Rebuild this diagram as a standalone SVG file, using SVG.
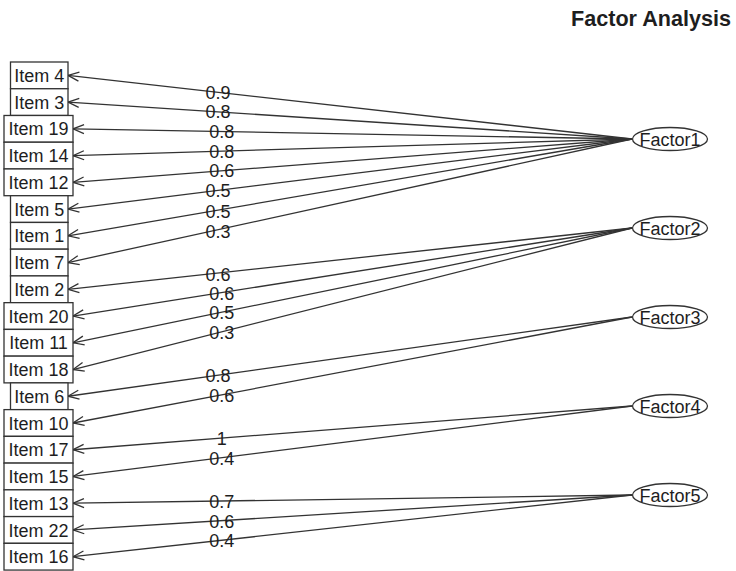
<svg xmlns="http://www.w3.org/2000/svg" width="736" height="571" viewBox="0 0 736 571">
  <style>
    text { font-family: "Liberation Sans", Arial, sans-serif; fill: #1e1e1e; }
    .lbl { font-size: 18px; text-anchor: middle; }
    .title { font-size: 21.6px; font-weight: bold; text-anchor: end; }
    .box { fill: #ffffff; stroke: #333333; stroke-width: 1.3; }
    .fac { fill: #ffffff; stroke: #333333; stroke-width: 1.3; }
    .edge { fill: none; stroke: #333333; stroke-width: 1.3; marker-end: url(#arr); }
  </style>
  <defs>
    <marker id="arr" markerUnits="userSpaceOnUse" markerWidth="14" markerHeight="12" refX="0" refY="0" orient="auto" viewBox="-12 -6 14 12" overflow="visible">
      <path d="M-11,-4.5 L0,0 L-11,4.5" fill="none" stroke="#333333" stroke-width="1.3"/>
    </marker>
  </defs>

  <rect width="736" height="571" fill="#ffffff"/>

  <text class="title" x="731" y="26">Factor Analysis</text>

  <!-- loading paths: factor to item -->
  <g id="connectors">
    <line class="edge" x1="632" y1="139" x2="68" y2="75.37"/>
    <line class="edge" x1="632" y1="139" x2="68" y2="102.11"/>
    <line class="edge" x1="632" y1="139" x2="73" y2="128.85"/>
    <line class="edge" x1="632" y1="139" x2="73" y2="155.59"/>
    <line class="edge" x1="632" y1="139" x2="73" y2="182.33"/>
    <line class="edge" x1="632" y1="139" x2="68" y2="209.07"/>
    <line class="edge" x1="632" y1="139" x2="68" y2="235.81"/>
    <line class="edge" x1="632" y1="139" x2="68" y2="262.55"/>
    <line class="edge" x1="632" y1="228" x2="68" y2="289.29"/>
    <line class="edge" x1="632" y1="228" x2="73" y2="316.03"/>
    <line class="edge" x1="632" y1="228" x2="73" y2="342.77"/>
    <line class="edge" x1="632" y1="228" x2="73" y2="369.51"/>
    <line class="edge" x1="632" y1="317" x2="68" y2="396.25"/>
    <line class="edge" x1="632" y1="317" x2="73" y2="422.99"/>
    <line class="edge" x1="632" y1="406" x2="73" y2="449.73"/>
    <line class="edge" x1="632" y1="406" x2="73" y2="476.47"/>
    <line class="edge" x1="632" y1="495" x2="73" y2="503.21"/>
    <line class="edge" x1="632" y1="495" x2="73" y2="529.95"/>
    <line class="edge" x1="632" y1="495" x2="73" y2="556.69"/>

    <!-- loading values -->
    <text class="lbl" x="218" y="98.8">0.9</text>
    <text class="lbl" x="218" y="118.4">0.8</text>
    <text class="lbl" x="221.7" y="138.1">0.8</text>
    <text class="lbl" x="221.7" y="157.7">0.8</text>
    <text class="lbl" x="221.7" y="177.3">0.6</text>
    <text class="lbl" x="218" y="197.4">0.5</text>
    <text class="lbl" x="218" y="217.6">0.5</text>
    <text class="lbl" x="218" y="237.7">0.3</text>
    <text class="lbl" x="218" y="280.5">0.6</text>
    <text class="lbl" x="221.7" y="299.6">0.6</text>
    <text class="lbl" x="221.7" y="319.2">0.5</text>
    <text class="lbl" x="221.7" y="339.4">0.3</text>
    <text class="lbl" x="218" y="382.2">0.8</text>
    <text class="lbl" x="221.7" y="402.3">0.6</text>
    <text class="lbl" x="221.7" y="445.1">1</text>
    <text class="lbl" x="221.7" y="465.2">0.4</text>
    <text class="lbl" x="221.7" y="508.0">0.7</text>
    <text class="lbl" x="221.7" y="527.6">0.6</text>
    <text class="lbl" x="221.7" y="547.3">0.4</text>
  </g>

  <!-- observed items -->
  <g id="item4"><rect class="box" x="10.5" y="62" width="57.5" height="26.74"/><text class="lbl" x="39.3" y="81.9">Item 4</text></g>
  <g id="item3"><rect class="box" x="10.5" y="88.74" width="57.5" height="26.74"/><text class="lbl" x="39.3" y="108.6">Item 3</text></g>
  <g id="item19"><rect class="box" x="4" y="115.48" width="69" height="26.74"/><text class="lbl" x="38.5" y="135.4">Item 19</text></g>
  <g id="item14"><rect class="box" x="4" y="142.22" width="69" height="26.74"/><text class="lbl" x="38.5" y="162.1">Item 14</text></g>
  <g id="item12"><rect class="box" x="4" y="168.96" width="69" height="26.74"/><text class="lbl" x="38.5" y="188.8">Item 12</text></g>
  <g id="item5"><rect class="box" x="10.5" y="195.7" width="57.5" height="26.74"/><text class="lbl" x="39.3" y="215.6">Item 5</text></g>
  <g id="item1"><rect class="box" x="10.5" y="222.44" width="57.5" height="26.74"/><text class="lbl" x="39.3" y="242.3">Item 1</text></g>
  <g id="item7"><rect class="box" x="10.5" y="249.18" width="57.5" height="26.74"/><text class="lbl" x="39.3" y="269.1">Item 7</text></g>
  <g id="item2"><rect class="box" x="10.5" y="275.92" width="57.5" height="26.74"/><text class="lbl" x="39.3" y="295.8">Item 2</text></g>
  <g id="item20"><rect class="box" x="4" y="302.66" width="69" height="26.74"/><text class="lbl" x="38.5" y="322.5">Item 20</text></g>
  <g id="item11"><rect class="box" x="4" y="329.4" width="69" height="26.74"/><text class="lbl" x="38.5" y="349.3">Item 11</text></g>
  <g id="item18"><rect class="box" x="4" y="356.14" width="69" height="26.74"/><text class="lbl" x="38.5" y="376.0">Item 18</text></g>
  <g id="item6"><rect class="box" x="10.5" y="382.88" width="57.5" height="26.74"/><text class="lbl" x="39.3" y="402.8">Item 6</text></g>
  <g id="item10"><rect class="box" x="4" y="409.62" width="69" height="26.74"/><text class="lbl" x="38.5" y="429.5">Item 10</text></g>
  <g id="item17"><rect class="box" x="4" y="436.36" width="69" height="26.74"/><text class="lbl" x="38.5" y="456.2">Item 17</text></g>
  <g id="item15"><rect class="box" x="4" y="463.1" width="69" height="26.74"/><text class="lbl" x="38.5" y="483.0">Item 15</text></g>
  <g id="item13"><rect class="box" x="4" y="489.84" width="69" height="26.74"/><text class="lbl" x="38.5" y="509.7">Item 13</text></g>
  <g id="item22"><rect class="box" x="4" y="516.58" width="69" height="26.74"/><text class="lbl" x="38.5" y="536.5">Item 22</text></g>
  <g id="item16"><rect class="box" x="4" y="543.32" width="69" height="26.74"/><text class="lbl" x="38.5" y="563.2">Item 16</text></g>

  <!-- latent factors -->
  <g id="factor1"><ellipse class="fac" cx="670" cy="139" rx="37.5" ry="11.5"/><text class="lbl" x="670" y="145.5">Factor1</text></g>
  <g id="factor2"><ellipse class="fac" cx="670" cy="228" rx="37.5" ry="11.5"/><text class="lbl" x="670" y="234.5">Factor2</text></g>
  <g id="factor3"><ellipse class="fac" cx="670" cy="317" rx="37.5" ry="11.5"/><text class="lbl" x="670" y="323.5">Factor3</text></g>
  <g id="factor4"><ellipse class="fac" cx="670" cy="406" rx="37.5" ry="11.5"/><text class="lbl" x="670" y="412.5">Factor4</text></g>
  <g id="factor5"><ellipse class="fac" cx="670" cy="495" rx="37.5" ry="11.5"/><text class="lbl" x="670" y="501.5">Factor5</text></g>
</svg>
